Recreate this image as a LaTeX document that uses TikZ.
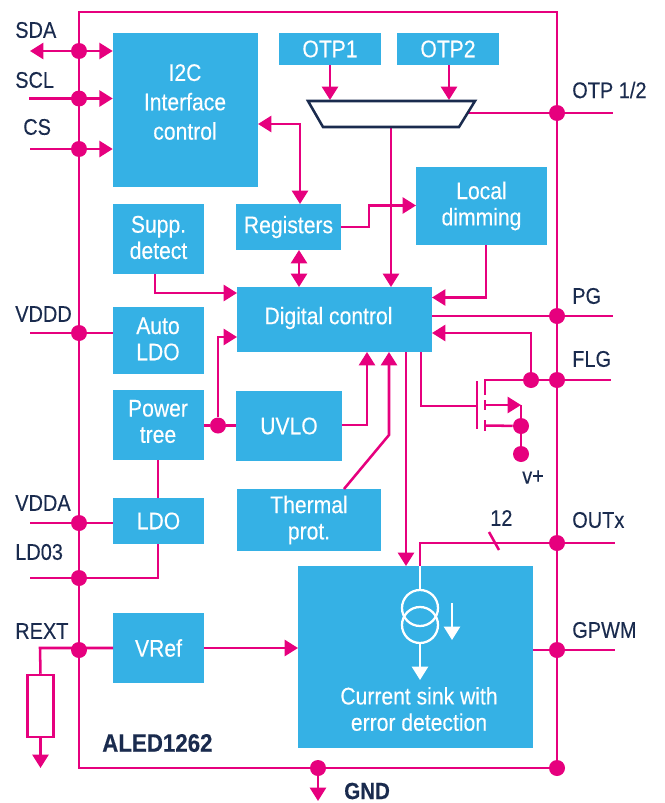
\documentclass[tikz,border=0pt]{standalone}
\usepackage{fontspec}
\setmainfont[FakeStretch=0.88,FakeBold=0.25]{Liberation Sans}
\usetikzlibrary{arrows.meta,calc}
\definecolor{pink}{HTML}{E6007E}
\definecolor{blu}{HTML}{35B1E5}
\definecolor{navy}{HTML}{1A2B4E}
\tikzset{
  wire/.style={draw=pink,line width=1.9pt,line join=miter},
  tip/.style={-{Triangle[length=10pt,width=12pt]}},
  bitip/.style={{Triangle[length=10pt,width=12pt]}-{Triangle[length=10pt,width=12pt]}},
  blk/.style={fill=blu,text=white,inner sep=0pt,align=center,font=\fontsize{18}{19.7}\selectfont},
  whitetext/.style={text=white,inner sep=0pt,align=center,font=\fontsize{18}{19.7}\selectfont},
  dot/.style={circle,fill=pink,inner sep=0pt,minimum size=12pt},
  pin/.style={text=navy,inner sep=0pt,anchor=west,font=\fontsize{17}{19.5}\selectfont},
  whitewire/.style={draw=white,line width=1.7pt},
}
\newcommand{\blkbox}[6]{\node[blk,minimum width={(#4-#2)*0.75pt},minimum height={(#5-#3)*0.75pt}] (#1) at ({(#2+#4)/2},{(#3+#5)/2}) {#6};}
\begin{document}
\begin{tikzpicture}[x=0.75pt,y=-0.75pt]
\useasboundingbox (0,0) rectangle (664,803);
% blocks
\blkbox{i2c}{113}{33}{258}{187}{}
\node[whitetext,font=\fontsize{18}{22}\selectfont] (i2ct) at (185,102) {I2C\\Interface\\control};
\blkbox{otpa}{279}{33}{381}{65}{OTP1}
\blkbox{otpb}{397}{33}{499}{65}{OTP2}
\blkbox{supp}{113}{204}{204}{274}{}
\node[whitetext] (suppt) at (158.5,237.5) {Supp.\\detect};
\blkbox{regs}{236}{204}{341}{250}{}
\node[whitetext] (regst) at (288.5,227) {Registers};
\blkbox{local}{416}{167}{547}{245}{Local\\dimming}
\blkbox{dig}{237}{287}{432}{352}{}
\node[whitetext] (digt) at (328.5,318) {Digital control};
\blkbox{auto}{113}{307}{204}{374}{}
\node[whitetext] (autot) at (158,339) {Auto\\LDO};
\blkbox{power}{113}{390}{204}{460}{}
\node[whitetext] (powert) at (158,421.5) {Power\\tree};
\blkbox{uvlo}{236}{391}{342}{461}{UVLO}
\blkbox{ldo}{113}{498}{204}{544}{LDO}
\blkbox{therm}{237}{489}{381}{551}{Thermal\\prot.}
\blkbox{vref}{113}{613}{204}{683}{VRef}
\blkbox{sink}{298}{566}{533}{748}{}
\node[whitetext] (sinkt) at (419,709) {Current sink with\\error detection};
% resistor
\node[draw=pink,line width=1.9pt,minimum width={26*0.75pt},minimum height={62*0.75pt},inner sep=0pt] (res) at (40.5,706) {};
% frame
\coordinate (tl) at (79,12); \coordinate (tr) at (557,12);
\coordinate (br) at (557,768); \coordinate (bl) at (79,768);
% dots
\node[dot] (dsda) at (79,51) {};
\node[dot] (dscl) at (79,98.5) {};
\node[dot] (dcs) at (79,149) {};
\node[dot] (dvddd) at (79,333) {};
\node[dot] (dvdda) at (79,523) {};
\node[dot] (dld) at (79,578) {};
\node[dot] (drext) at (79,650) {};
\node[dot] (dgnd) at (318,768) {};
\node[dot] (dbr) at (557,768) {};
\node[dot] (dotp) at (557,113) {};
\node[dot] (dpg) at (557,316) {};
\node[dot] (dflg) at (557,380) {};
\node[dot] (dflgb) at (531,380) {};
\node[dot] (dout) at (557,543) {};
\node[dot] (dgpwm) at (557,650) {};
\node[dot] (dpow) at (218,425.5) {};
\node[dot] (dsrc) at (521,426) {};
\node[dot] (dvp) at (521,454) {};
% free ends
\coordinate (esda) at (30,51); \coordinate (escl) at (29,98.5); \coordinate (ecs) at (30,149);
\coordinate (evddd) at (30,333); \coordinate (evdda) at (30,523); \coordinate (eld) at (30,578);
\coordinate (erext) at (40,648); \coordinate (eotp) at (613,113); \coordinate (epg) at (613,316);
\coordinate (eflg) at (611,380); \coordinate (eout) at (615,543); \coordinate (egpwm) at (615,650);
\coordinate (egnd) at (318,801); \coordinate (eres) at (40.5,768);
\coordinate (muxa) at (308,101); \coordinate (muxb) at (475,101);
\coordinate (muxc) at (459,127); \coordinate (muxd) at (323,127);
\coordinate (muxr) at (467,113);
% wires
\draw[wire] (tl) -- (tr) -- (br) -- (bl) -- cycle;
\draw[wire,bitip] (esda) -- (esda -| i2c.west);
\draw[wire,tip] (escl) -- (escl -| i2c.west);
\draw[wire,tip] (ecs) -- (ecs -| i2c.west);
\draw[wire,bitip] (258,124) -- (300,124) -- (300,204);
\draw[wire,tip] (330,65) -- (330,100);
\draw[wire,tip] (449,65) -- (449,100);
\draw[wire] (muxr) -- (dotp) -- (eotp);
\draw[wire,tip] (391,127) -- (391,287);
\draw[wire,tip] (341,227) -- (369,227) -- (369,205.5) -- (416,205.5);
\draw[wire,bitip] (299,250) -- (299,287);
\draw[wire,tip] (486,245) -- (486,297.5) -- (432,297.5);
\draw[wire] (432,316) -- (dpg) -- (epg);
\draw[wire] (485,380) -- (dflgb) -- (dflg) -- (eflg);
\draw[wire,tip] (dflgb) -- (531,333) -- (432,333);
\draw[wire] (421,352) -- (421,406) -- (477,406);
\draw[wire,tip] (406,352) -- (406,566);
\draw[wire,tip] (342,425) -- (367,425) -- (367,352);
\draw[wire,tip] (344,489) -- (389,435) -- (389,352);
\draw[wire] (evddd) -- (evddd -| auto.west);
\draw[wire] (204,425.5) -- (dpow) -- (236,425.5);
\draw[wire,tip] (dpow) -- (218,337) -- (237,337);
\draw[wire,tip] (155,274) -- (155,293) -- (237,293);
\draw[wire] (158,460) -- (158,498);
\draw[wire] (evdda) -- (evdda -| ldo.west);
\draw[wire] (eld) -- (158,578) -- (158,544);
\draw[wire] (res.north) -- (erext) -- (113,648);
\draw[wire,tip] (res.south) -- (eres);
\draw[wire,tip] (204,648) -- (298,648);
\draw[wire,tip] (dgnd) -- (egnd);
\draw[wire] (420,566) -- (420,543) -- (dout) -- (eout);
\draw[wire] (489,532) -- (499,550);
\draw[wire] (533,650) -- (dgpwm) -- (egpwm);
% mux
\draw[draw=navy,fill=white,line width=1.9pt] (muxa) -- (muxb) -- (muxc) -- (muxd) -- cycle;
% transistor
\draw[wire] (477,381) -- (477,429);
\draw[wire] (485,379) -- (485,395) (485,400) -- (485,410) (485,420) -- (485,431);
\draw[wire,tip] (485,405) -- (521,405);
\draw[wire] (521,405) -- (dsrc) -- (dvp);
\draw[wire] (485,425.5) -- (dsrc);
% current source
\draw[whitewire] (420,566) -- (420,590);
\draw[whitewire] (420,608) circle[radius=18];
\draw[whitewire] (420,625) circle[radius=18];
\draw[whitewire,tip] (420,643) -- (420,680);
\draw[whitewire,tip] (452,603) -- (452,640);
% labels
\node[pin] (lsda) at (15,30) {SDA};
\node[pin] (lscl) at (15,80) {SCL};
\node[pin] (lcs) at (23,127) {CS};
\node[pin] (lvddd) at (15,314) {VDDD};
\node[pin] (lvdda) at (15,503) {VDDA};
\node[pin] (lld) at (15,552) {LD03};
\node[pin] (lrext) at (15,631) {REXT};
\node[pin] (lotp) at (572,90) {OTP 1/2};
\node[pin] (lpg) at (572,296) {PG};
\node[pin] (lflg) at (572,359) {FLG};
\node[pin] (lout) at (572,520) {OUTx};
\node[pin] (lgpwm) at (572,630) {GPWM};
\node[pin] (l12) at (490,518) {12};
\node[pin] (lvp) at (522,477) {v+};
\node[pin,font=\fontsize{17.5}{19.5}\selectfont\bfseries] (lgnd) at (344,791) {GND};
\node[pin,font=\fontsize{19}{19.5}\selectfont\bfseries] (lname) at (102,743) {ALED1262};
\end{tikzpicture}
\end{document}
